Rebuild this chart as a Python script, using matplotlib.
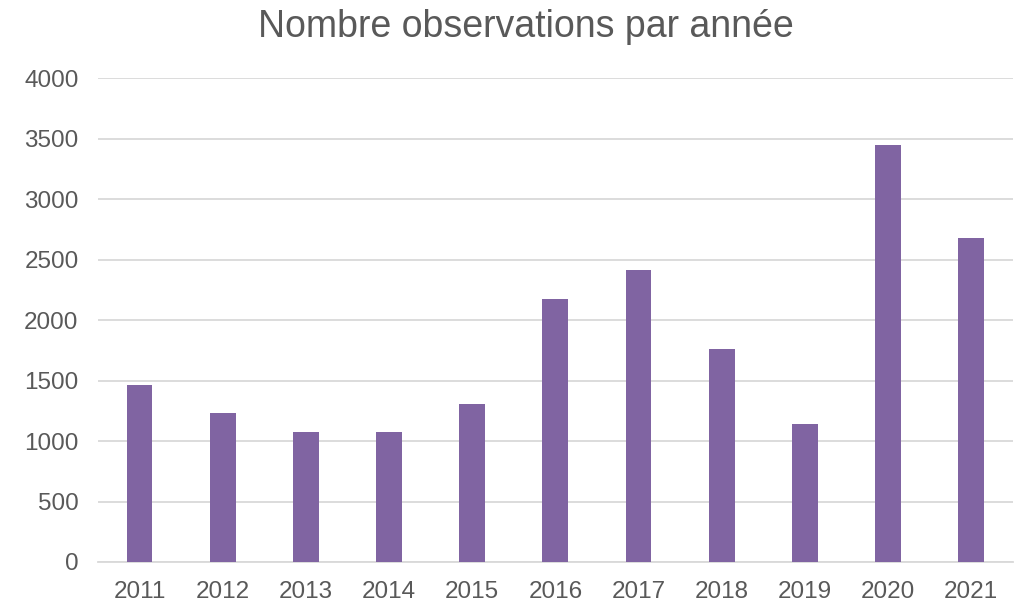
import matplotlib
matplotlib.use("Agg")
import matplotlib.pyplot as plt

years = ["2011", "2012", "2013", "2014", "2015", "2016", "2017", "2018", "2019", "2020", "2021"]
counts = [1460, 1230, 1072, 1072, 1303, 2174, 2416, 1760, 1138, 3450, 2681]
yticks = [0, 500, 1000, 1500, 2000, 2500, 3000, 3500, 4000]

plt.rcParams['font.family'] = ['Liberation Sans', 'DejaVu Sans']
fig = plt.figure(figsize=(10.25, 6.03), dpi=100)
ax = fig.add_axes([0.0956, 0.068, 0.8924, 0.8026])

x = range(len(years))
ax.bar(x, counts, width=0.31, color="#8064A2", zorder=3)
ax.set_xlim(-0.5, len(years) - 0.5)
ax.set_ylim(0, 4000)
ax.set_yticks(yticks)
ax.set_xticks(list(x))
ax.set_xticklabels(years)
ax.grid(axis="y", color="#D9D9D9", linewidth=1.3, zorder=0)
for s in ["top", "right", "left"]:
    ax.spines[s].set_visible(False)
ax.spines["bottom"].set_color("#D9D9D9")
ax.spines["bottom"].set_linewidth(1.3)
ax.tick_params(axis="both", length=0, labelsize=17.5, labelcolor="#595959")
ax.tick_params(axis="y", pad=14)
ax.tick_params(axis="x", pad=14)
fig.text(0.513, 0.955, "Nombre observations par année", ha="center", va="center",
         fontsize=27, color="#595959")
fig.savefig("out.png", dpi=100, facecolor="white")
